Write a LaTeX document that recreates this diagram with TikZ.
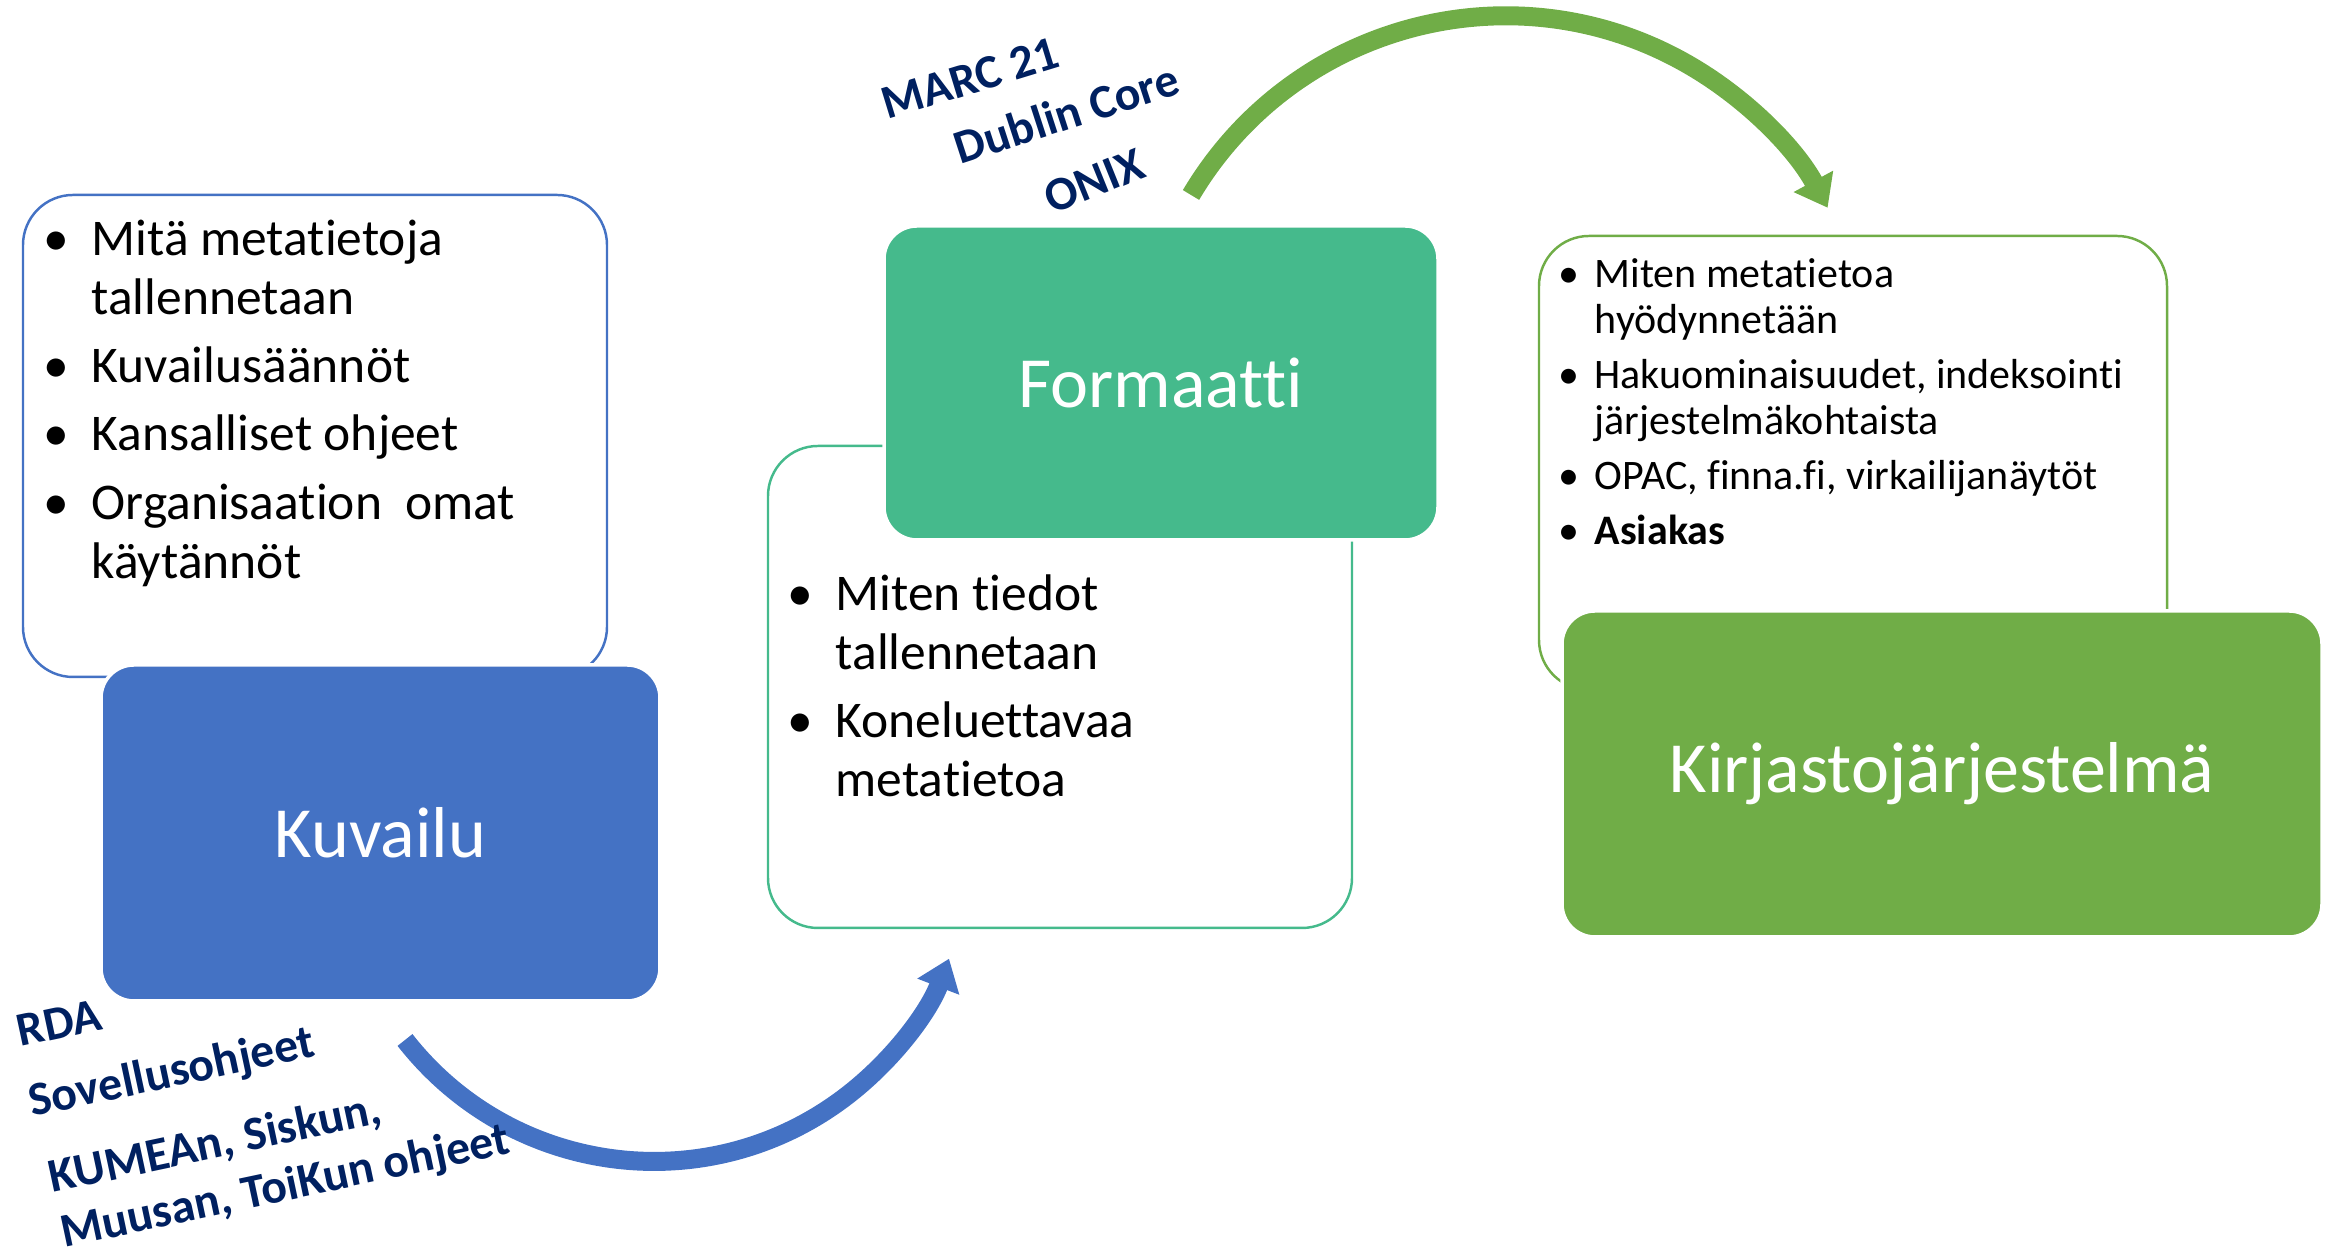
\documentclass[tikz,border=0pt]{standalone}
\usepackage{fontspec}
\setmainfont{Carlito}[Ligatures=NoCommon]
\usetikzlibrary{arrows.meta}

\definecolor{kuvailublue}{HTML}{4472C4}
\definecolor{formaattigreen}{HTML}{45BA8C}
\definecolor{kirjastogreen}{HTML}{70AD47}
\definecolor{navy}{HTML}{002060}

\newcommand{\bodyfont}{\fontsize{14.65}{16.79}\selectfont}
\newcommand{\smallbodyfont}{\fontsize{11.95}{13.09}\selectfont}
\newcommand{\titlefont}{\fontsize{20.5}{24}\selectfont}
\newcommand{\tagfont}{\fontsize{13.6}{16}\selectfont\bfseries}
\newlength{\bulletindent}
\newcommand{\bitem}[1]{\par\noindent\hangindent=\bulletindent\hangafter=1\makebox[\bulletindent][l]{\textbullet}#1\par}

\begin{document}
\begin{tikzpicture}[
		titlebox/.style={rectangle, rounded corners=0.33cm, draw=white, line width=1pt, text=white, font=\titlefont, inner sep=0pt},
		infobox/.style={rectangle, rounded corners=0.5cm, fill=white, line width=0.7pt, inner sep=0pt},
		bulletlist/.style={anchor=base west, inner sep=0pt, text=black},
		navytag/.style={anchor=base west, inner sep=0pt, text=navy, font=\tagfont},
		bendarrow/.style={line width=0.19cm, -{Triangle[length=0.30cm, width=0.43cm]}}]
		\useasboundingbox (0,0) rectangle (23.29,12.57);
		
		\node[infobox, draw=kuvailublue, minimum width=5.84cm, minimum height=4.82cm] (kuvailuInfo) at (3.15,8.21) {};
		\node[infobox, draw=formaattigreen, minimum width=5.84cm, minimum height=4.82cm] (formaattiInfo) at (10.60,5.70) {};
		\node[infobox, draw=kirjastogreen, minimum width=6.28cm, minimum height=4.54cm] (kirjastoInfo) at (18.53,7.94) {};
		
		\node[titlebox, fill=kuvailublue, minimum width=5.59cm, minimum height=3.36cm] (kuvailu) at (3.805,4.24) {Kuvailu};
		\node[titlebox, fill=formaattigreen, minimum width=5.54cm, minimum height=3.14cm] (formaatti) at (11.61,8.74) {Formaatti};
		\node[titlebox, fill=kirjastogreen, minimum width=7.60cm, minimum height=3.26cm] (kirjasto) at (19.42,4.83) {Kirjastojärjestelmä};
		
		\node[bulletlist, font=\bodyfont] (kuvailuList) at (0.43,10.01) {\begin{minipage}[t]{5.4cm}\setlength{\bulletindent}{0.48cm}\setlength{\parskip}{2.56pt}
				\bitem{Mitä metatietoja\newline tallennetaan}
				\bitem{Kuvailusäännöt}
				\bitem{Kansalliset ohjeet}
				\bitem{Organisaation\ \ omat\newline käytännöt}
			\end{minipage}};
		\node[bulletlist, font=\bodyfont] (formaattiList) at (7.87,6.46) {\begin{minipage}[t]{5.3cm}\setlength{\bulletindent}{0.48cm}\setlength{\parskip}{2.56pt}
				\bitem{Miten tiedot\newline tallennetaan}
				\bitem{Koneluettavaa\newline metatietoa}
			\end{minipage}};
		\node[bulletlist, font=\smallbodyfont] (kirjastoList) at (15.58,9.69) {\begin{minipage}[t]{6.0cm}\setlength{\bulletindent}{0.36cm}\setlength{\parskip}{2.56pt}
				\bitem{Miten metatietoa\newline hyödynnetään}
				\bitem{Hakuominaisuudet, indeksointi\newline järjestelmäkohtaista}
				\bitem{OPAC, finna.fi, virkailijanäytöt}
				\bitem{\textbf{Asiakas}}
			\end{minipage}};
		
		\coordinate (kuvailuOut) at (4.05,2.17);
		\coordinate (formaattiOut) at (11.91,10.62);
		\draw[bendarrow, kuvailublue] (kuvailuOut) arc[start angle=218, end angle=339, radius=3.16];
		\draw[bendarrow, kirjastogreen] (formaattiOut) arc[start angle=149.3, end angle=28.4, radius=3.66];
		
		\node[navytag, rotate=12] (rda) at (0.20,2.10) {RDA};
		\node[navytag, rotate=12] (sovellus) at (0.32,1.40) {Sovellusohjeet};
		\node[navytag, rotate=12] (kumea) at (0.52,0.64) {KUMEAn, Siskun,};
		\node[navytag, rotate=12] (muusa) at (0.64,0.09) {Muusan, ToiKun ohjeet};
		\node[navytag, rotate=17] (marc) at (8.87,11.37) {MARC 21};
		\node[navytag, rotate=18] (dublin) at (9.60,10.92) {Dublin Core};
		\node[navytag, rotate=22] (onix) at (10.52,10.42) {ONIX};
	\end{tikzpicture}
\end{document}
